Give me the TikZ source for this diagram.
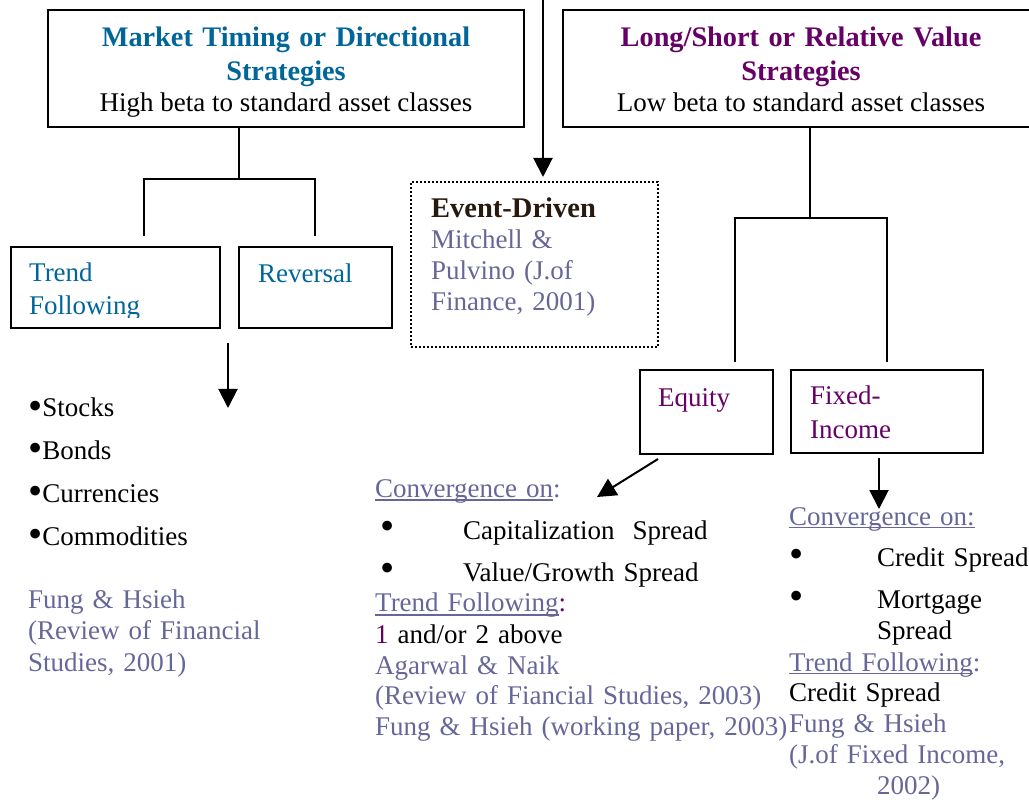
\documentclass[tikz,border=0pt]{standalone}
\usepackage{fontspec}
\setmainfont{Liberation Serif}
\usepackage{xcolor}
\usetikzlibrary{arrows.meta}
\definecolor{timingblue}{RGB}{0,102,153}
\definecolor{valuepurple}{RGB}{102,0,102}
\definecolor{citeblue}{RGB}{102,102,153}
\definecolor{eventdark}{RGB}{40,25,15}
\newcommand{\undertext}[1]{\setbox0\hbox{#1}\rlap{\rule[-3.5pt]{\wd0}{1.3pt}}\box0}
\newcommand{\assetbullet}{\raisebox{-2pt}{\scalebox{1.5}{•}}}
\newcommand{\spreadbullet}[1]{\makebox[88pt][l]{\hspace*{#1}\raisebox{-1pt}{\scalebox{1.5}{•}}}}

\begin{document}
\begin{tikzpicture}[x=1pt, y=-1pt]
    \tikzstyle{stratbox} = [rectangle, draw, line width=2.5pt, inner sep=0pt]
    \tikzstyle{eventbox} = [rectangle, draw, line width=2pt, dash pattern=on 2pt off 2pt, inner sep=0pt]
    \tikzstyle{txt} = [inner sep=0pt, anchor=base west, font=\fontsize{27}{31}\selectfont]
    \tikzstyle{txtblock} = [txt, align=left]
    \tikzstyle{boxtitle} = [inner sep=0pt, anchor=base, font=\bfseries\fontsize{28.3}{34}\selectfont, text width=470pt, align=center]
    \tikzstyle{link} = [line width=2pt]
    \tikzstyle{pointer} = [line width=2pt, -{Triangle[width=19pt,length=19pt]}]

    \useasboundingbox (0,0) rectangle (1029,802);

    % Strategy families
    \node [stratbox, minimum width=476pt, minimum height=117pt] (timing) at (286,68.5) {};
    \node [boxtitle, text=timingblue] (timing_title) at (286,47) {Market Timing or Directional\\Strategies};
    \node [txt, anchor=base] (timing_beta) at (286,112) {High beta to standard asset classes};
    \node [stratbox, minimum width=476pt, minimum height=117pt] (value) at (801,68.5) {};
    \node [boxtitle, text=valuepurple] (value_title) at (801,47) {Long/Short or Relative Value\\Strategies};
    \node [txt, anchor=base] (value_beta) at (801,112) {Low beta to standard asset classes};

    % Event-driven
    \node [eventbox, minimum width=247pt, minimum height=165pt] (event) at (534.5,264.5) {};
    \node [txtblock, text width=220pt, text=citeblue] (event_text) at (431,218) {{\bfseries\fontsize{28.5}{31}\selectfont\color{eventdark}Event-Driven}\\Mitchell \&\\Pulvino (J.of\\Finance, 2001)};
    \coordinate (feed) at (543,0);
    \draw [pointer, shorten >=4pt] (feed) -- (feed |- event.north);

    % Directional branch
    \coordinate (timing_split) at (239,179);
    \coordinate (trend_top) at (144,236);
    \coordinate (reversal_top) at (315,236);
    \draw [link] (timing.south -| timing_split) -- (timing_split);
    \draw [link] (trend_top) |- (timing_split) -| (reversal_top);
    \node [stratbox, minimum width=209pt, minimum height=81pt] (trend) at (115.5,287.5) {};
    \node [stratbox, minimum width=153pt, minimum height=81pt] (reversal) at (315.5,287.5) {};
    \begin{scope}
        \clip (11,247) rectangle (220,318);
        \node [txtblock, text width=180pt, text=timingblue, font=\fontsize{27}{33}\selectfont] (trend_text) at (29,282) {Trend\\Following};
    \end{scope}
    \node [txt, text=timingblue] (reversal_text) at (258,283) {Reversal};

    \coordinate (trend_out) at (228,343);
    \coordinate (assets_in) at (228,408);
    \draw [pointer] (trend_out) -- (assets_in);
    \node [txtblock, text width=250pt] (assets) at (28,417) {\assetbullet Stocks\\[12pt]\assetbullet Bonds\\[12pt]\assetbullet Currencies\\[12pt]\assetbullet Commodities};
    \node [txtblock, text width=260pt, text=citeblue, font=\fontsize{27}{31.5}\selectfont] (assets_cite) at (28,608) {Fung \& Hsieh\\(Review of Financial\\Studies, 2001)};

    % Relative value branch
    \coordinate (value_split) at (810,218);
    \coordinate (equity_top) at (735,362);
    \coordinate (fixed_top) at (887,362);
    \draw [link] (value.south -| value_split) -- (value_split);
    \draw [link] (equity_top) |- (value_split) -| (fixed_top);
    \node [stratbox, minimum width=133pt, minimum height=84pt] (equity) at (706.5,412) {};
    \node [stratbox, minimum width=192pt, minimum height=83pt] (fixed) at (887,411.5) {};
    \node [txt, text=valuepurple] (equity_text) at (658,407) {Equity};
    \node [txtblock, text width=160pt, text=valuepurple, font=\fontsize{27}{34}\selectfont] (fixed_text) at (810,405) {Fixed-\\Income};

    \coordinate (equity_out) at (658,459);
    \coordinate (equity_in) at (597,497);
    \draw [pointer] (equity_out) -- (equity_in);
    \coordinate (fixed_out) at (879,458);
    \coordinate (fixed_in) at (879,509);
    \draw [pointer] (fixed_out) -- (fixed_in);

    % Notes under the boxes
    \node [txtblock, text width=430pt] (equity_notes) at (375,497) {\textcolor{citeblue}{\undertext{Convergence on}:}\\[11pt]
        \spreadbullet{5pt}Capitalization\ \ Spread\\[11pt]
        \spreadbullet{5pt}Value/Growth Spread\\
        \textcolor{citeblue}{\undertext{Trend Following}}\textcolor{valuepurple}{:}\\
        \textcolor{valuepurple}{1} and/or 2 above\\
        \textcolor{citeblue}{Agarwal \& Naik}\\
        \textcolor{citeblue}{(Review of Fiancial Studies, 2003)}\\
        \textcolor{citeblue}{Fung \& Hsieh (working paper, 2003)}};
    \node [txtblock, text width=240pt] (fixed_notes) at (789,525) {\textcolor{citeblue}{\undertext{Convergence on:}}\\[11pt]
        \spreadbullet{0pt}Credit Spread\\[11pt]
        \spreadbullet{0pt}Mortgage\\
        \hspace*{88pt}Spread\\
        \textcolor{citeblue}{\undertext{Trend Following}:}\\
        Credit Spread\\
        \textcolor{citeblue}{Fung \& Hsieh}\\
        \textcolor{citeblue}{(J.of Fixed Income,}\\
        \textcolor{citeblue}{\hspace*{88pt}2002)}};
\end{tikzpicture}
\end{document}
